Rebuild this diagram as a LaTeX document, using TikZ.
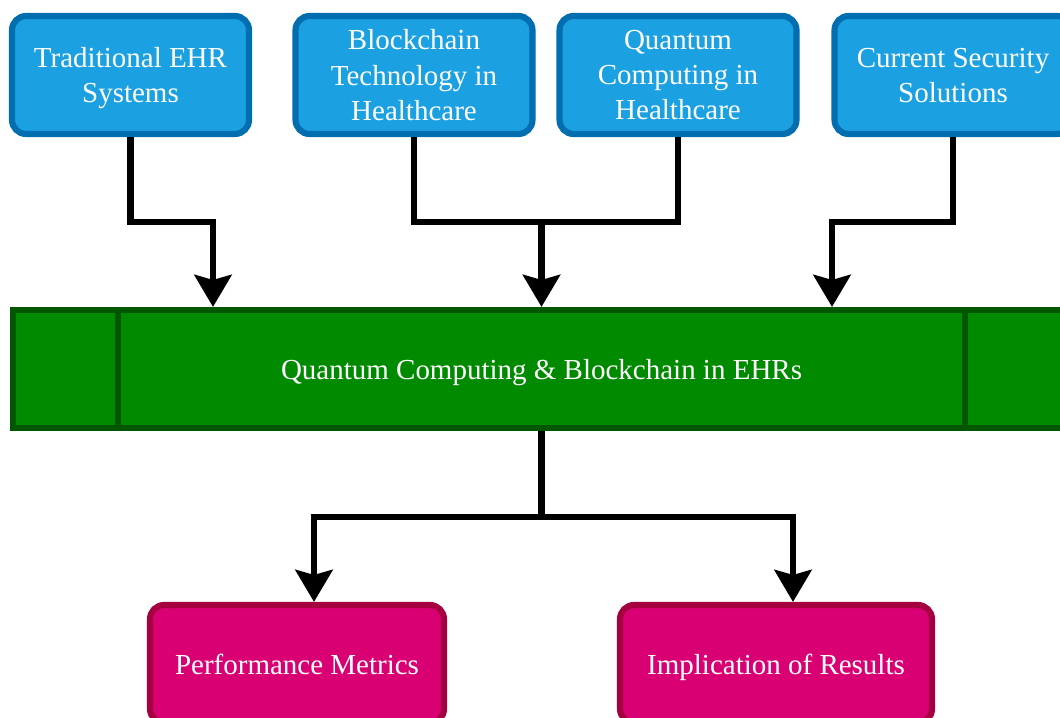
\documentclass[tikz,border=0pt]{standalone}
\usepackage{fontspec}
\setmainfont{Liberation Serif}
\usetikzlibrary{calc, positioning, arrows.meta}

\definecolor{topfill}{HTML}{1BA1E2}
\definecolor{topline}{HTML}{006EAF}
\definecolor{corefill}{HTML}{008A00}
\definecolor{coreline}{HTML}{005700}
\definecolor{resfill}{HTML}{D80073}
\definecolor{resline}{HTML}{A50040}

\begin{document}
\begin{tikzpicture}[
        x=0.02cm, y=-0.02cm,
        topic/.style={draw=topline, fill=topfill, line width=3.5pt, rounded corners=8pt, minimum width=4.74cm, minimum height=2.36cm, align=center, text=white, text depth=0pt, font=\fontsize{16.5}{20}\selectfont},
        core/.style={draw=coreline, fill=corefill, line width=3.5pt, minimum width=21.14cm, minimum height=2.36cm, text=white, text depth=0pt, font=\fontsize{16.5}{20}\selectfont},
        divider/.style={draw=coreline, line width=3.5pt},
        result/.style={draw=resline, fill=resfill, line width=3.5pt, rounded corners=8pt, minimum height=2.36cm, text=white, text depth=0pt, font=\fontsize{16.5}{20}\selectfont},
        link/.style={line width=3.8pt},
        arrow/.style={-{Stealth[length=0.64cm, width=0.74cm, inset=0.1cm]}, line width=3.8pt}
    ]
    \useasboundingbox (0,0) rectangle (1060,717);

    % ================= Sources (top row) =================
    \node[topic] (ehr) at (130.5, 75) {Traditional EHR\\Systems};
    \node[topic] (chain) at (414, 75) {Blockchain\\Technology in\\Healthcare};
    \node[topic] (quantum) at (678, 75) {Quantum\\Computing in\\Healthcare};
    \node[topic] (security) at (953, 75) {Current Security\\Solutions};

    % ================= Core bar =================
    \node[core] (core) at (541.5, 369) {Quantum Computing \& Blockchain in EHRs};
    \draw[divider] ($(core.north west)+(108,0)$) -- ($(core.south west)+(108,0)$);
    \draw[divider] ($(core.north east)+(-108,0)$) -- ($(core.south east)+(-108,0)$);

    % ================= Outcomes (bottom row) =================
    \node[result, minimum width=5.88cm] (metrics) at (297, 664) {Performance Metrics};
    \node[result, minimum width=6.24cm] (implication) at (776, 664) {Implication of Results};

    % elbow points
    \coordinate (laneL) at (213, 222);
    \coordinate (laneR) at (832, 222);
    \coordinate (splitTop) at (541.5, 222);
    \coordinate (splitBottom) at (541.5, 517);
    \coordinate (dropL) at (314, 517);
    \coordinate (dropR) at (793, 517);

    % Sources into the core
    \draw[arrow] (ehr.south) |- (laneL) -- (laneL |- core.north);
    \draw[link] (chain.south) |- (splitTop) -| (quantum.south);
    \draw[arrow] (splitTop) -- (core.north);
    \draw[arrow] (security.south) |- (laneR) -- (laneR |- core.north);

    % Core out to the outcomes
    \draw[link] (core.south) -- (splitBottom);
    \draw[arrow] (splitBottom) -- (dropL) -- (dropL |- metrics.north);
    \draw[arrow] (splitBottom) -- (dropR) -- (dropR |- implication.north);

\end{tikzpicture}
\end{document}
